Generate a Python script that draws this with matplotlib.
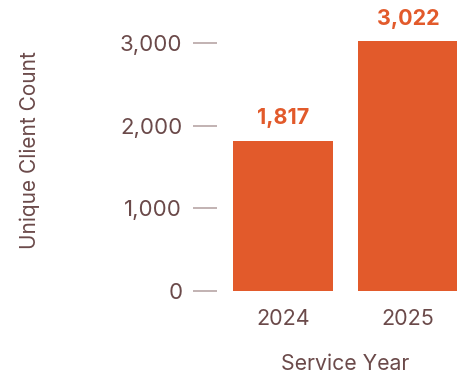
import matplotlib
matplotlib.use("Agg")
import matplotlib.pyplot as plt

years = ["2024", "2025"]
clients = [1817, 3022]
y_ticks = [0, 1000, 2000, 3000]

plt.rcParams['font.family'] = ['Inter', 'DejaVu Sans']

text_col = '#6b4a4a'
bar_col = '#e25a2b'

fig = plt.figure(figsize=(4.57, 3.74), dpi=100)
ax = fig.add_axes([217/457, (374-290.7)/374, 1 - 217/457, (290.7-10.2)/374])

x = list(range(len(years)))
ax.bar(x, clients, width=0.8, color=bar_col)
for xi, v in zip(x, clients):
    ax.annotate(f"{v:,}", (xi, v), xytext=(0, 9), textcoords='offset points',
                ha='center', va='bottom', color=bar_col, fontsize=15.5, fontweight='bold')

ax.set_xlim(-0.528, 1.392)
ax.set_ylim(0, 3400)
ax.set_xticks(x)
ax.set_xticklabels(years)
ax.set_yticks(y_ticks)
ax.set_yticklabels([f"{t:,}" for t in y_ticks])

for s in ax.spines.values():
    s.set_visible(False)

ax.tick_params(axis='y', direction='out', length=17, width=1.2, color='#b8a5a5',
               pad=8, labelsize=16, labelcolor=text_col)
ax.tick_params(axis='x', length=0, pad=13, labelsize=15.5, labelcolor=text_col)
ax.get_yticklines()[-2].set_color(text_col)

ax.set_xlabel("Service Year", fontsize=15.3, color=text_col, labelpad=18)
ax.xaxis.label.set_x(0.535)
ax.set_ylabel("Unique Client Count", fontsize=15, color=text_col)
ax.yaxis.set_label_coords((40 - 217) / 240, 0.5)

fig.savefig("out.png", dpi=100)
